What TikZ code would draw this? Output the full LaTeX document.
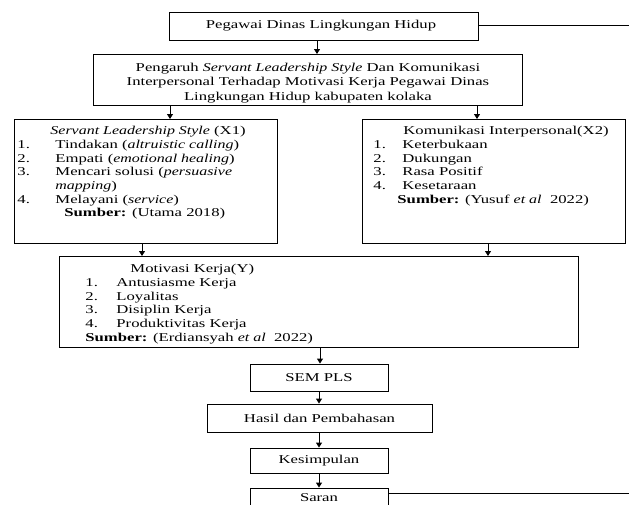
\documentclass[tikz,border=0pt]{standalone}
\usepackage{fontspec}
\setmainfont[FakeStretch=1.39]{Liberation Serif}
\newfontfamily\itfam[FakeStretch=1.33]{Liberation Serif}
\newcommand\myit[1]{{\itfam\itshape #1}}
\usetikzlibrary{arrows.meta}
\begin{document}
\begin{tikzpicture}[x=1pt,y=-1pt,
  font=\fontsize{12}{13.7}\selectfont,
  box/.style={draw, line width=0.9pt, inner sep=0pt},
  arr/.style={line width=0.9pt, -{Triangle[length=5pt,width=6pt]}},
  link/.style={line width=0.9pt}]
\useasboundingbox (0,0) rectangle (629,504);
\clip (0,0) rectangle (629,504);

\node[box, minimum width=309pt, minimum height=28pt] (B1) at (323.5,26) {Pegawai Dinas Lingkungan Hidup\hspace*{5pt}};

\node[box, anchor=north west] (B2) at (93,54) {\begin{minipage}[t][51pt][t]{429pt}\centering\fontsize{12}{14.5}\selectfont\vspace*{8.5pt}
Pengaruh \myit{Servant Leadership Style} Dan Komunikasi\par
Interpersonal Terhadap Motivasi Kerja Pegawai Dinas\par
Lingkungan Hidup kabupaten kolaka\par
\end{minipage}};

\node[box, anchor=north west] (X1) at (14,119) {\begin{minipage}[t][124pt][t]{263pt}\vspace*{7pt}
\hspace*{36pt}\myit{Servant Leadership Style} (X1)\par
\hspace*{3pt}\makebox[38pt][l]{1.}Tindakan (\myit{altruistic calling})\par
\hspace*{3pt}\makebox[38pt][l]{2.}Empati (\myit{emotional healing})\par
\hspace*{3pt}\makebox[38pt][l]{3.}Mencari solusi (\myit{persuasive}\par
\hspace*{41pt}\myit{mapping})\par
\hspace*{3pt}\makebox[38pt][l]{4.}Melayani (\myit{service})\par
\hspace*{50pt}\textbf{Sumber:} (Utama 2018)\par
\end{minipage}};

\node[box, anchor=north west] (X2) at (362,119) {\begin{minipage}[t][124pt][t]{263pt}\vspace*{7pt}
\hspace*{41pt}Komunikasi Interpersonal(X2)\par
\hspace*{11pt}\makebox[29pt][l]{1.}Keterbukaan\par
\hspace*{11pt}\makebox[29pt][l]{2.}Dukungan\par
\hspace*{11pt}\makebox[29pt][l]{3.}Rasa Positif\par
\hspace*{11pt}\makebox[29pt][l]{4.}Kesetaraan\par
\hspace*{35pt}\textbf{Sumber:} (Yusuf \myit{et al}\ \ 2022)\par
\end{minipage}};

\node[box, anchor=north west] (Y) at (59,256) {\begin{minipage}[t][91pt][t]{519pt}\vspace*{8pt}
\hspace*{71pt}Motivasi Kerja(Y)\par
\hspace*{26pt}\makebox[31pt][l]{1.}Antusiasme Kerja\par
\hspace*{26pt}\makebox[31pt][l]{2.}Loyalitas\par
\hspace*{26pt}\makebox[31pt][l]{3.}Disiplin Kerja\par
\hspace*{26pt}\makebox[31pt][l]{4.}Produktivitas Kerja\par
\hspace*{26pt}\textbf{Sumber:} (Erdiansyah \myit{et al}\ \ 2022)\par
\end{minipage}};

\node[box, minimum width=138pt, minimum height=27pt] (SEM) at (319,377.5) {SEM PLS};
\node[box, minimum width=225pt, minimum height=28pt] (HP) at (319.5,418) {Hasil dan Pembahasan};
\node[box, minimum width=138pt, minimum height=25pt] (KS) at (319,460.5) {Kesimpulan};
\node[box, minimum width=138pt, minimum height=20pt] (SR) at (319,498) {Saran};

\coordinate (a1) at (317,0);
\coordinate (a2) at (170,0);
\coordinate (a3) at (477,0);
\coordinate (a4) at (142,0);
\coordinate (a5) at (488,0);
\coordinate (a6) at (320,0);
\coordinate (a7) at (319,0);
\coordinate (R1) at (629,25);
\coordinate (R2) at (629,493);

\draw[arr] (B1.south -| a1) -- (B2.north -| a1);
\draw[arr] (B2.south -| a2) -- (X1.north -| a2);
\draw[arr] (B2.south -| a3) -- (X2.north -| a3);
\draw[arr] (X1.south -| a4) -- (Y.north -| a4);
\draw[arr] (X2.south -| a5) -- (Y.north -| a5);
\draw[arr] (Y.south -| a6) -- (SEM.north -| a6);
\draw[arr] (SEM.south -| a7) -- (HP.north -| a7);
\draw[arr] (HP.south -| a7) -- (KS.north -| a7);
\draw[arr] (KS.south -| a7) -- (SR.north -| a7);
\draw[link] (B1.east |- R1) -- (R1);
\draw[link] (SR.east |- R2) -- (R2);
\end{tikzpicture}
\end{document}
